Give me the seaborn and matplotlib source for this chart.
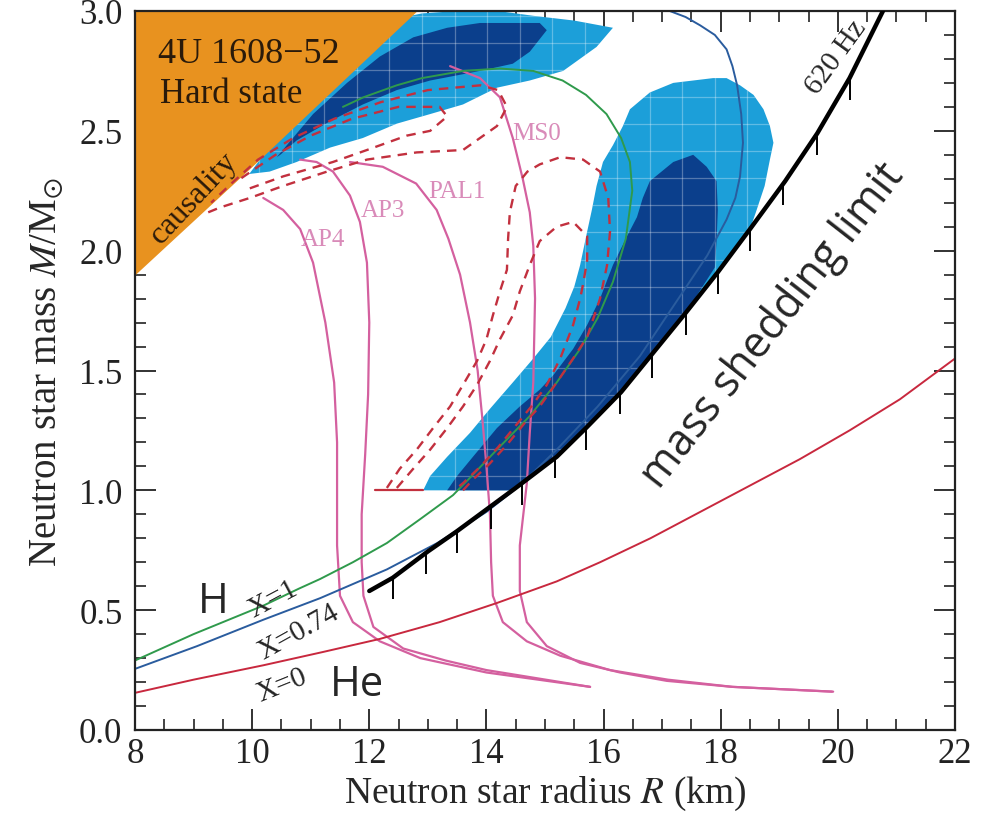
import numpy as np
import pandas as pd
import matplotlib
matplotlib.use("Agg")
import matplotlib.pyplot as plt
import seaborn as sns
from matplotlib.ticker import MultipleLocator

# ---- data (R in km, M in solar masses) ----
causality_r = [8.0, 10.08, 12.81]
causality_m = [1.90, 2.37, 3.0]

upper_light_r = [9.95, 10.3, 10.76, 11.33, 11.89, 12.47, 13.04, 13.6, 14.18, 14.74, 15.31, 15.88, 16.16,
                 15.5, 14.8, 14.2, 13.5, 12.9, 12.5, 11.5, 10.5]
upper_light_m = [2.32, 2.33, 2.37, 2.43, 2.47, 2.53, 2.57, 2.61, 2.68, 2.71, 2.75, 2.85, 2.93,
                 2.96, 2.98, 3.0, 3.0, 2.99, 2.97, 2.75, 2.50]
upper_dark_r = [10.42, 11.04, 11.62, 12.18, 12.75, 13.33, 13.89, 14.45, 14.91, 15.03, 14.74, 14.45, 13.89,
                13.04, 12.47, 11.89, 11.33, 10.76, 10.48]
upper_dark_m = [2.39, 2.57, 2.70, 2.81, 2.89, 2.93, 2.95, 2.95, 2.95, 2.92, 2.83, 2.78, 2.75,
                2.71, 2.67, 2.61, 2.54, 2.46, 2.40]

right_light_r = [12.92, 13.04, 13.33, 13.72, 14.06, 14.45, 14.8, 15.1, 15.35, 15.5, 15.6, 15.72, 15.8, 15.88,
                 15.99, 16.16, 16.33, 16.45, 16.79, 17.19, 17.87, 18.1, 18.33, 18.56, 18.73, 18.84, 18.9,
                 18.84, 18.75, 18.6, 18.5, 17.95, 17.4, 16.8, 16.3, 15.7, 15.2, 14.5, 14.45]
right_light_m = [1.0, 1.06, 1.14, 1.24, 1.34, 1.45, 1.55, 1.64, 1.76, 1.85, 1.94, 2.08, 2.17, 2.27,
                 2.37, 2.44, 2.52, 2.59, 2.66, 2.70, 2.72, 2.72, 2.69, 2.65, 2.59, 2.52, 2.45,
                 2.38, 2.27, 2.16, 2.09, 1.91, 1.74, 1.56, 1.41, 1.26, 1.14, 1.01, 1.0]
right_dark_r = [13.33, 13.5, 13.77, 14.18, 14.57, 14.91, 15.14, 15.48, 15.72, 15.94, 16.16, 16.40, 16.57,
                16.67, 16.79, 17.19, 17.53, 17.76, 17.93, 17.95, 17.93, 17.9,
                17.4, 16.8, 16.3, 15.7, 15.2, 14.5, 14.45]
right_dark_m = [1.0, 1.06, 1.14, 1.26, 1.35, 1.42, 1.48, 1.59, 1.69, 1.80, 1.94, 2.06, 2.14,
                2.22, 2.29, 2.37, 2.40, 2.35, 2.29, 2.17, 2.04, 1.93,
                1.74, 1.56, 1.41, 1.26, 1.14, 1.01, 1.0]

shed_r = [12.0, 12.4, 13.0, 13.5, 14.0, 14.5, 15.2, 15.7, 16.3, 16.8, 17.4, 17.95, 18.5, 19.1, 19.65, 20.2, 20.77]
shed_m = [0.58, 0.635, 0.745, 0.83, 0.92, 1.01, 1.14, 1.26, 1.41, 1.56, 1.74, 1.91, 2.09, 2.29, 2.49, 2.72, 3.0]
shed_tick_r = [12.4, 12.97, 13.5, 14.07, 14.6, 15.17, 15.7, 16.28, 16.82, 17.4, 17.95, 18.5, 19.06, 19.64, 20.2]
shed_tick_m = [0.635, 0.74, 0.83, 0.93, 1.03, 1.14, 1.26, 1.41, 1.56, 1.74, 1.91, 2.09, 2.28, 2.49, 2.72]

x1_r = [8.0, 8.5, 9.0, 9.6, 10.2, 10.8, 11.16, 11.72, 12.3, 12.87, 13.43, 13.67, 14.18, 14.74, 15.2, 15.6,
        15.9, 16.16, 16.38, 16.49, 16.45, 16.3, 16.05, 15.7, 15.3, 14.8, 14.23, 13.6, 12.9, 12.47, 11.9, 11.55]
x1_m = [0.29, 0.345, 0.40, 0.46, 0.52, 0.59, 0.63, 0.70, 0.78, 0.88, 0.98, 1.04, 1.17, 1.31, 1.45, 1.59,
        1.72, 1.87, 2.05, 2.25, 2.37, 2.47, 2.57, 2.65, 2.71, 2.75, 2.76, 2.75, 2.72, 2.69, 2.64, 2.60]
x074_r = [8.0, 9.06, 10.19, 11.16, 12.3, 13.16, 14.0, 14.57, 15.2, 15.9, 16.62, 17.36, 17.77, 18.1,
          18.25, 18.33, 18.38, 18.35, 18.28, 18.2, 18.1, 17.9, 17.65, 17.4, 17.13]
x074_m = [0.255, 0.35, 0.46, 0.55, 0.67, 0.78, 0.91, 1.02, 1.17, 1.35, 1.56, 1.83, 1.98, 2.13,
          2.22, 2.31, 2.45, 2.57, 2.69, 2.77, 2.84, 2.90, 2.94, 2.975, 3.0]
x0_r = [8.0, 9.0, 10.19, 11.2, 12.18, 13.2, 14.18, 15.2, 15.94, 16.8, 17.65, 18.5, 19.35, 20.2, 21.06, 22.0]
x0_m = [0.155, 0.21, 0.27, 0.325, 0.38, 0.45, 0.53, 0.62, 0.70, 0.80, 0.91, 1.02, 1.13, 1.25, 1.38, 1.55]

ap4_r = [10.19, 10.53, 10.82, 11.04, 11.25, 11.4, 11.45, 11.45, 11.45, 11.5, 11.72, 12.18, 12.87, 14.0, 15.77]
ap4_m = [2.22, 2.17, 2.09, 1.95, 1.70, 1.45, 1.20, 0.95, 0.77, 0.56, 0.45, 0.37, 0.30, 0.24, 0.18]
ap3_r = [10.82, 11.1, 11.38, 11.67, 11.84, 11.96, 12.0, 11.98, 11.93, 11.87, 11.87, 11.9, 12.07, 12.58, 13.3, 14.0, 15.77]
ap3_m = [2.38, 2.37, 2.33, 2.23, 2.12, 1.95, 1.70, 1.40, 1.15, 0.90, 0.70, 0.56, 0.43, 0.34, 0.29, 0.25, 0.18]
pal1_r = [11.67, 12.23, 12.8, 13.15, 13.35, 13.55, 13.72, 13.85, 13.93, 14.0, 14.06, 14.08, 14.11, 14.28,
          14.69, 15.26, 16.11, 17.1, 18.2, 19.9]
pal1_m = [2.37, 2.35, 2.28, 2.17, 2.05, 1.90, 1.70, 1.50, 1.30, 1.10, 0.90, 0.70, 0.56, 0.45,
          0.37, 0.31, 0.25, 0.21, 0.18, 0.16]
ms0_r = [13.38, 13.89, 14.23, 14.45, 14.62, 14.74, 14.8, 14.83, 14.8, 14.74, 14.69, 14.57, 14.57, 14.69,
         15.03, 15.6, 16.28, 17.08, 18.2, 19.92]
ms0_m = [2.77, 2.72, 2.64, 2.47, 2.30, 2.16, 2.02, 1.80, 1.45, 1.24, 1.03, 0.77, 0.58, 0.45,
         0.35, 0.28, 0.24, 0.205, 0.18, 0.16]

ul_outer_r = [9.25, 9.45, 9.96, 10.53, 11.28, 11.96, 12.81, 13.6, 14.18, 14.35, 14.2, 13.9, 13.0, 12.2,
              11.4, 10.7, 10.1, 9.6, 9.3]
ul_outer_m = [2.16, 2.18, 2.22, 2.27, 2.33, 2.38, 2.41, 2.42, 2.52, 2.60, 2.67, 2.69, 2.67, 2.62,
              2.55, 2.47, 2.38, 2.27, 2.20]
ul_inner_r = [9.96, 10.53, 11.38, 11.96, 12.64, 13.04, 13.33, 13.2, 12.5, 11.7, 11.0, 10.4, 9.8]
ul_inner_m = [2.26, 2.31, 2.37, 2.42, 2.48, 2.50, 2.56, 2.60, 2.60, 2.55, 2.48, 2.40, 2.30]

r_outer_r = [12.3, 12.52, 12.81, 13.09, 13.38, 13.6, 13.84, 14.0, 14.11, 14.23, 14.35, 14.37, 14.4, 14.5,
             14.7, 14.91, 15.26, 15.65, 15.94, 16.08, 16.11, 16.06, 15.94, 15.72, 15.48, 15.2, 14.91,
             14.65, 14.35, 14.05, 13.75, 13.6]
r_outer_m = [1.01, 1.09, 1.17, 1.26, 1.35, 1.44, 1.54, 1.63, 1.73, 1.83, 1.92, 2.05, 2.16, 2.27,
             2.33, 2.36, 2.39, 2.38, 2.33, 2.22, 2.08, 1.94, 1.80, 1.64, 1.55, 1.45, 1.35,
             1.28, 1.19, 1.11, 1.04, 1.0]
r_inner_r = [12.47, 12.75, 13.04, 13.33, 13.6, 13.84, 14.06, 14.23, 14.45, 14.57, 14.74, 14.91, 15.2,
             15.48, 15.72, 15.72, 15.65, 15.6, 15.48, 15.26, 15.03, 14.8, 14.5, 14.2, 13.9, 13.6, 13.45]
r_inner_m = [1.01, 1.09, 1.17, 1.26, 1.35, 1.44, 1.54, 1.63, 1.73, 1.83, 1.94, 2.04, 2.10,
             2.12, 2.06, 1.96, 1.86, 1.80, 1.69, 1.55, 1.44, 1.36, 1.27, 1.18, 1.10, 1.03, 1.0]
base_r = [12.1, 12.92]
base_m = [1.0, 1.0]

ORANGE = "#e8921f"
LIGHT = "#1c9fd9"
DARK = "#0b3f8c"
PINK = "#d4609f"
DASH = "#c2303e"

sns.set_theme(style="ticks")
plt.rcParams["font.family"] = ["Liberation Serif", "DejaVu Serif"]
plt.rcParams["mathtext.fontset"] = "stix"
plt.rcParams["lines.dashed_pattern"] = [4.0, 3.0]

fig = plt.figure(figsize=(9.85, 8.28), dpi=100)
ax = fig.add_axes([135 / 985, 1 - 731 / 828, 820 / 985, 719 / 828])


def curve(r, m, **kw):
    df = pd.DataFrame({"R": r, "M": m})
    sns.lineplot(data=df, x="R", y="M", sort=False, estimator=None, ax=ax, legend=False, **kw)


# confidence regions
patches = []
for (r, m, c) in [(upper_light_r, upper_light_m, LIGHT), (right_light_r, right_light_m, LIGHT)]:
    patches.append(ax.fill(r, m, color=c, lw=0, zorder=1)[0])
for (r, m) in [(upper_dark_r, upper_dark_m), (right_dark_r, right_dark_m)]:
    ax.fill(r, m, color=DARK, lw=0, zorder=1.1)

# faint pixel grid seen inside the contours
for p in patches:
    for gx in np.arange(9.57, 21.0, 0.555):
        ln = ax.axvline(gx, color="white", lw=0.9, alpha=0.3, zorder=1.2)
        ln.set_clip_path(p)
    for gy in np.arange(0.946, 3.0, 0.113):
        ln = ax.axhline(gy, color="white", lw=0.9, alpha=0.3, zorder=1.2)
        ln.set_clip_path(p)

# causality region
ax.fill_between(causality_r, causality_m, 3.0, color=ORANGE, lw=0, zorder=1.5)

# EOS mass-radius curves
for r, m in [(ap4_r, ap4_m), (ap3_r, ap3_m), (pal1_r, pal1_m), (ms0_r, ms0_m)]:
    curve(r, m, color=PINK, lw=1.6, zorder=2)

for r, m in [(ul_outer_r, ul_outer_m), (ul_inner_r, ul_inner_m), (r_outer_r, r_outer_m), (r_inner_r, r_inner_m)]:
    curve(r, m, color=DASH, lw=1.7, linestyle="--", zorder=2.5)
curve(base_r, base_m, color=DASH, lw=1.6, zorder=2.5)

# composition curves
curve(x1_r, x1_m, color="#2f9a4c", lw=1.4, zorder=2.2)
curve(x074_r, x074_m, color="#2a5c9e", lw=1.4, zorder=2.2)
curve(x0_r, x0_m, color="#c8283e", lw=1.4, zorder=2.2)

# mass shedding limit with hatch ticks
curve(shed_r, shed_m, color="black", lw=3.2, zorder=3)
ax.vlines(shed_tick_r, np.array(shed_tick_m) - 0.09, shed_tick_m, color="black", lw=1.4, zorder=3)

# labels
ax.text(8.39, 2.787, "4U 1608\u221252", fontsize=26, color="#2a1a0a", zorder=4)
ax.text(8.42, 2.62, "Hard state", fontsize=25, color="#2a1a0a", zorder=4)
ax.text(9.0, 2.22, "causality", fontsize=23, color="#2a1a0a", rotation=47,
        ha="center", va="center", rotation_mode="anchor", zorder=4)
for txt, x, y in [("AP4", 11.21, 2.05), ("AP3", 12.23, 2.17), ("PAL1", 13.5, 2.25), ("MS0", 14.86, 2.49)]:
    ax.text(x, y, txt, fontsize=18, color="#d98bb9", ha="center", va="center", zorder=4)
ax.text(19.98, 2.81, "620 Hz", fontsize=21, rotation=54, ha="center", va="center",
        rotation_mode="anchor", zorder=4)
ax.text(18.9, 1.69, "mass shedding limit", family=["Open Sans", "DejaVu Sans"], fontsize=31,
        rotation=52, ha="center", va="center", rotation_mode="anchor", zorder=4)
ax.text(10.35, 0.55, "X=1", fontsize=21, rotation=28, ha="center", va="center",
        rotation_mode="anchor", zorder=4)
ax.text(10.8, 0.41, "X=0.74", fontsize=21, rotation=29, ha="center", va="center",
        rotation_mode="anchor", zorder=4)
ax.text(10.5, 0.19, "X=0", fontsize=21, rotation=22, ha="center", va="center",
        rotation_mode="anchor", zorder=4)
ax.text(9.33, 0.54, "H", family=["Open Sans", "DejaVu Sans"], fontsize=30, ha="center", va="center", zorder=4)
ax.text(11.79, 0.19, "He", family=["Open Sans", "DejaVu Sans"], fontsize=30, ha="center", va="center", zorder=4)

ax.set_xlim(8, 22)
ax.set_ylim(0, 3)
ax.xaxis.set_major_locator(MultipleLocator(2))
ax.xaxis.set_minor_locator(MultipleLocator(0.5))
ax.yaxis.set_major_locator(MultipleLocator(0.5))
ax.yaxis.set_minor_locator(MultipleLocator(0.1))
ax.yaxis.set_major_formatter(plt.FormatStrFormatter("%.1f"))
ax.tick_params(which="both", direction="in", top=True, right=True, colors="#222222")
ax.tick_params(which="major", length=15, width=1.3, labelsize=25)
ax.tick_params(axis="y", which="major", pad=9)
ax.tick_params(axis="x", which="major", pad=5)
ax.tick_params(which="minor", length=8, width=1.2)
for s in ax.spines.values():
    s.set_linewidth(1.6)
    s.set_color("#222222")
ax.set_xlabel("Neutron star radius $R$ (km)", fontsize=27, labelpad=3)
ax.set_ylabel("Neutron star mass $M$/M$_{\\odot}$", fontsize=28, labelpad=10)

fig.savefig("out.png", dpi=100)
